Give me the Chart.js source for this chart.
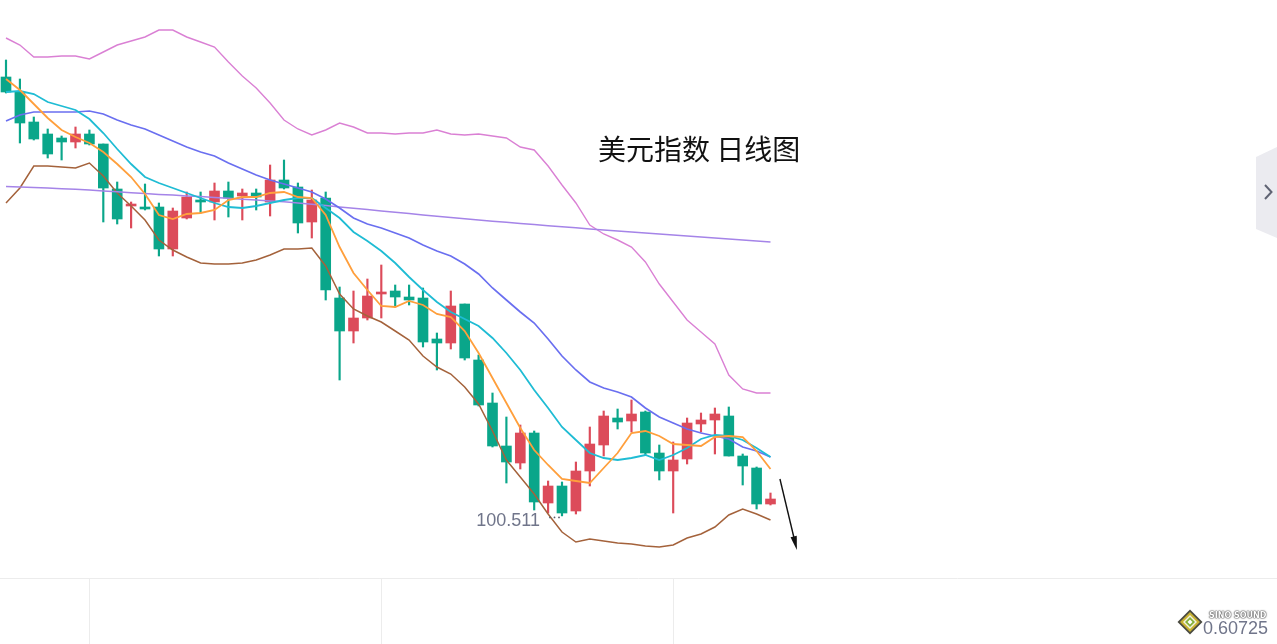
<!DOCTYPE html>
<html>
<head>
<meta charset="utf-8">
<script src="https://cdn.jsdelivr.net/npm/chart.js@4.4.1/dist/chart.umd.min.js"></script>
<style>
  html, body { margin: 0; padding: 0; background: #ffffff; overflow: hidden; }
  #wrap { position: relative; width: 1277px; height: 644px; }
  #c { position: absolute; left: 0; top: 0; }
  #title { position: absolute; left: 598px; top: 134px; font-family: "Noto Sans CJK SC", "Noto Sans", sans-serif; font-size: 28px; line-height: 28px; color: #111; white-space: nowrap; }
  #ticker { position: absolute; left: 1203px; top: 618px; font-family: "Liberation Sans", Arial, sans-serif; font-size: 18px; line-height: 20px; color: #70758a; white-space: nowrap; }
  #brand { position: absolute; left: 1209px; top: 611px; font-family: "DejaVu Sans", sans-serif; font-weight: bold; font-size: 8px; line-height: 10px; color: #ffffff; white-space: nowrap;
           text-shadow: 0 0 2px #444, 0 0 1px #444, 0 0 1px #444; }
</style>
</head>
<body>
<div id="wrap">
  <canvas id="c" width="1277" height="644"></canvas>
  <div id="title">美元指数 日线图</div>
  <div id="ticker">0.60725</div>
  <div id="brand">SINO SOUND</div>
</div>
<script>
// ---- daily candles (US Dollar Index) ----
const opens  = [104.90,104.75,104.45,104.33,104.29,104.25,104.33,104.23,103.78,103.61,
                103.60,103.60,103.18,103.49,103.67,103.65,103.76,103.71,103.74,103.65,
                103.87,103.80,103.45,103.69,102.69,102.36,102.49,102.73,102.76,102.70,
                102.69,102.28,102.24,102.63,102.07,101.64,101.21,101.04,101.34,100.64,
                100.81,100.56,100.96,101.22,101.49,101.46,101.55,101.14,100.96,101.08,
                101.43,101.47,101.51,101.11,100.99,100.63];
const highs  = [105.07,104.88,104.50,104.38,104.31,104.40,104.37,104.23,103.85,103.65,
                103.83,103.64,103.59,103.75,103.75,103.84,103.85,103.78,103.78,104.02,
                104.07,103.84,103.77,103.75,102.80,102.76,102.88,103.02,102.82,102.82,
                102.79,102.34,102.76,102.63,102.12,101.74,101.50,101.42,101.36,100.86,
                100.85,101.05,101.40,101.56,101.58,101.67,101.56,101.22,101.25,101.49,
                101.54,101.59,101.60,101.13,101.00,100.74];
const lows   = [104.74,104.24,104.27,104.09,104.07,104.19,104.22,103.45,103.43,103.39,
                103.57,103.11,103.11,103.48,103.54,103.47,103.50,103.47,103.57,103.51,
                103.78,103.34,103.29,102.67,101.87,102.24,102.47,102.49,102.60,102.62,
                102.20,101.97,102.18,102.07,101.61,101.20,100.84,100.98,100.57,100.54,
                100.511,100.53,100.81,101.11,101.38,101.35,101.12,100.87,100.54,101.03,
                101.35,101.13,101.11,100.82,100.58,100.62];
const closes = [104.75,104.44,104.28,104.13,104.25,104.33,104.23,103.79,103.48,103.63,
                103.58,103.18,103.56,103.70,103.65,103.76,103.69,103.74,103.70,103.87,
                103.79,103.44,103.67,102.77,102.36,102.49,102.71,102.75,102.70,102.67,
                102.25,102.24,102.61,102.09,101.62,101.21,101.05,101.34,100.65,100.81,
                100.54,100.96,101.23,101.51,101.45,101.53,101.14,100.96,101.07,101.44,
                101.47,101.53,101.11,101.01,100.63,100.68];

// ---- indicator lines ----
const ma5  = [104.88,104.77,104.63,104.49,104.37,104.30,104.24,104.15,104.03,103.90,
              103.73,103.52,103.48,103.53,103.54,103.57,103.67,103.70,103.70,103.74,
              103.75,103.70,103.69,103.52,103.20,102.94,102.77,102.61,102.60,102.66,
              102.62,102.53,102.50,102.36,102.14,101.89,101.64,101.39,101.17,101.02,
              100.88,100.86,100.84,100.99,101.14,101.34,101.36,101.31,101.23,101.22,
              101.21,101.30,101.31,101.30,101.16,100.98];
const ma10 = [104.75,104.76,104.73,104.65,104.61,104.57,104.48,104.34,104.18,104.03,
              103.90,103.84,103.79,103.74,103.69,103.64,103.60,103.59,103.61,103.64,
              103.67,103.69,103.69,103.59,103.49,103.35,103.26,103.16,103.04,102.90,
              102.77,102.65,102.55,102.48,102.41,102.29,102.14,101.97,101.77,101.59,
              101.40,101.27,101.14,101.09,101.07,101.09,101.12,101.07,101.12,101.19,
              101.28,101.32,101.31,101.27,101.19,101.10];
const ma20 = [104.46,104.52,104.55,104.55,104.55,104.55,104.56,104.53,104.47,104.42,
              104.38,104.32,104.26,104.20,104.15,104.11,104.04,103.98,103.92,103.87,
              103.83,103.79,103.75,103.68,103.59,103.49,103.43,103.39,103.34,103.29,
              103.22,103.16,103.11,103.03,102.93,102.79,102.67,102.55,102.44,102.28,
              102.11,101.97,101.85,101.79,101.75,101.70,101.59,101.50,101.44,101.38,
              101.34,101.31,101.28,101.20,101.16,101.10];
const maLong = [103.804,103.799,103.794,103.789,103.783,103.778,103.769,103.760,103.752,103.743,
                103.734,103.726,103.719,103.711,103.704,103.696,103.687,103.678,103.670,103.661,
                103.652,103.640,103.627,103.614,103.601,103.588,103.574,103.561,103.547,103.534,
                103.520,103.508,103.495,103.483,103.470,103.458,103.447,103.436,103.424,103.413,
                103.402,103.392,103.381,103.371,103.360,103.350,103.340,103.330,103.320,103.310,
                103.300,103.290,103.280,103.270,103.260,103.250];
const bollUpper = [105.29,105.22,105.10,105.10,105.11,105.11,105.08,105.15,105.22,105.26,
                   105.30,105.37,105.37,105.30,105.25,105.20,105.05,104.91,104.79,104.64,
                   104.47,104.38,104.32,104.37,104.44,104.40,104.34,104.34,104.33,104.34,
                   104.34,104.37,104.33,104.32,104.33,104.31,104.29,104.20,104.17,104.01,
                   103.82,103.64,103.42,103.33,103.27,103.20,103.05,102.83,102.65,102.47,
                   102.35,102.23,101.92,101.78,101.74,101.74];
const bollLower = [103.64,103.79,104.01,104.01,104.00,103.99,104.04,103.91,103.74,103.61,
                   103.47,103.27,103.17,103.10,103.04,103.03,103.03,103.04,103.07,103.12,
                   103.18,103.18,103.19,103.01,102.73,102.58,102.51,102.45,102.36,102.27,
                   102.11,102.00,101.93,101.80,101.63,101.36,101.07,100.90,100.73,100.53,
                   100.35,100.25,100.28,100.26,100.24,100.23,100.21,100.20,100.22,100.29,
                   100.33,100.40,100.52,100.58,100.53,100.47];

// session positions (category index) and lower-panel time separators
const sessions = opens.map((_, i) => i);
const separatorSessions = [6, 27, 48];

const UP = '#dc4b5a', DOWN = '#0aa68a';
const candleColors = sessions.map(i => closes[i] >= opens[i] ? UP : DOWN);

function lineSet(label, values, color, width, order) {
  return {
    type: 'line', label,
    data: sessions.map(i => ({ x: i, y: values[i] })),
    borderColor: color, borderWidth: width, pointRadius: 0, tension: 0,
    fill: false, order
  };
}

const overlay = {
  id: 'overlay',
  afterDatasetsDraw(chart) {
    const { ctx, scales: { x, y } } = chart;
    ctx.save();
    // lower panel separators
    ctx.strokeStyle = '#ececec';
    ctx.lineWidth = 1;
    ctx.beginPath();
    ctx.moveTo(0, 578.5); ctx.lineTo(chart.width, 578.5);
    separatorSessions.forEach(s => {
      const px = Math.round(x.getPixelForValue(s)) + 0.5;
      ctx.moveTo(px, 579); ctx.lineTo(px, chart.height);
    });
    ctx.stroke();

    // lowest-low label
    let mi = 0;
    lows.forEach((v, i) => { if (v < lows[mi]) mi = i; });
    const lx = x.getPixelForValue(mi), ly = y.getPixelForValue(lows[mi]);
    ctx.fillStyle = '#555a66';
    for (let k = 0; k < 3; k++) {
      ctx.beginPath();
      ctx.arc(lx - 12 + k * 4.5, ly + 1.5, 0.9, 0, Math.PI * 2);
      ctx.fill();
    }
    ctx.font = '18px "Liberation Sans", Arial, sans-serif';
    ctx.fillStyle = '#70758a';
    ctx.textAlign = 'right';
    ctx.textBaseline = 'middle';
    ctx.fillText(lows[mi].toFixed(3), lx - 22, ly + 5);

    // arrow after the last session
    const last = sessions.length - 1;
    const ax0 = x.getPixelForValue(last + 0.68), ay0 = y.getPixelForValue(highs[last] + 0.14);
    const ax1 = x.getPixelForValue(last + 1.9), ay1 = y.getPixelForValue(100.17);
    const ang = Math.atan2(ay1 - ay0, ax1 - ax0);
    ctx.strokeStyle = '#111';
    ctx.fillStyle = '#111';
    ctx.lineWidth = 1.4;
    ctx.beginPath();
    ctx.moveTo(ax0, ay0);
    ctx.lineTo(ax1 - 8 * Math.cos(ang), ay1 - 8 * Math.sin(ang));
    ctx.stroke();
    ctx.beginPath();
    ctx.moveTo(ax1, ay1);
    ctx.lineTo(ax1 - 14 * Math.cos(ang) + 3.2 * Math.sin(ang), ay1 - 14 * Math.sin(ang) - 3.2 * Math.cos(ang));
    ctx.lineTo(ax1 - 14 * Math.cos(ang) - 3.2 * Math.sin(ang), ay1 - 14 * Math.sin(ang) + 3.2 * Math.cos(ang));
    ctx.closePath();
    ctx.fill();

    // right side collapse tab
    ctx.fillStyle = '#ebebf0';
    ctx.beginPath();
    ctx.moveTo(1256, 157); ctx.lineTo(1277, 147); ctx.lineTo(1277, 238); ctx.lineTo(1256, 229);
    ctx.closePath();
    ctx.fill();
    ctx.strokeStyle = '#5f6373';
    ctx.lineWidth = 2;
    ctx.beginPath();
    ctx.moveTo(1265, 185); ctx.lineTo(1271.5, 192); ctx.lineTo(1265, 199);
    ctx.stroke();

    // watermark logo diamond
    const cx = 1190, cy = 622;
    const dia = (r, col) => { ctx.fillStyle = col; ctx.beginPath(); ctx.moveTo(cx, cy - r); ctx.lineTo(cx + r, cy); ctx.lineTo(cx, cy + r); ctx.lineTo(cx - r, cy); ctx.closePath(); ctx.fill(); };
    dia(12.5, '#4a4a40');
    dia(10, '#c9b233');
    dia(7, '#f4f1e0');
    dia(5, '#86b23a');
    dia(2.5, '#ffffff');
    ctx.restore();
  }
};

new Chart(document.getElementById('c'), {
  type: 'bar',
  data: {
    datasets: [
      lineSet('MA5', ma5, '#ff9f3c', 1.8, 0),
      lineSet('MA10', ma10, '#1fbcd4', 1.8, 1),
      lineSet('MA20', ma20, '#6a6ff0', 1.7, 2),
      lineSet('MA long', maLong, '#a584e8', 1.5, 3),
      lineSet('BOLL upper', bollUpper, '#da80d4', 1.4, 4),
      lineSet('BOLL lower', bollLower, '#a4623b', 1.5, 5),
      {
        type: 'bar', label: 'body',
        data: sessions.map(i => ({ x: i, y: [opens[i], closes[i]] })),
        backgroundColor: candleColors, borderWidth: 0,
        barThickness: 10, grouped: false, order: 10
      },
      {
        type: 'bar', label: 'wick',
        data: sessions.map(i => ({ x: i, y: [lows[i], highs[i]] })),
        backgroundColor: candleColors, borderWidth: 0,
        barThickness: 1.5, grouped: false, order: 11
      }
    ]
  },
  options: {
    responsive: false,
    animation: false,
    devicePixelRatio: 1,
    layout: { padding: { top: 0, bottom: 66, left: 0, right: 0 } },
    plugins: { legend: { display: false }, tooltip: { enabled: false }, title: { display: false } },
    scales: {
      x: { type: 'linear', min: -0.432, max: 91.44, display: false, offset: false },
      y: { type: 'linear', min: 99.89, max: 105.67, display: false }
    }
  },
  plugins: [overlay]
});
</script>
</body>
</html>
